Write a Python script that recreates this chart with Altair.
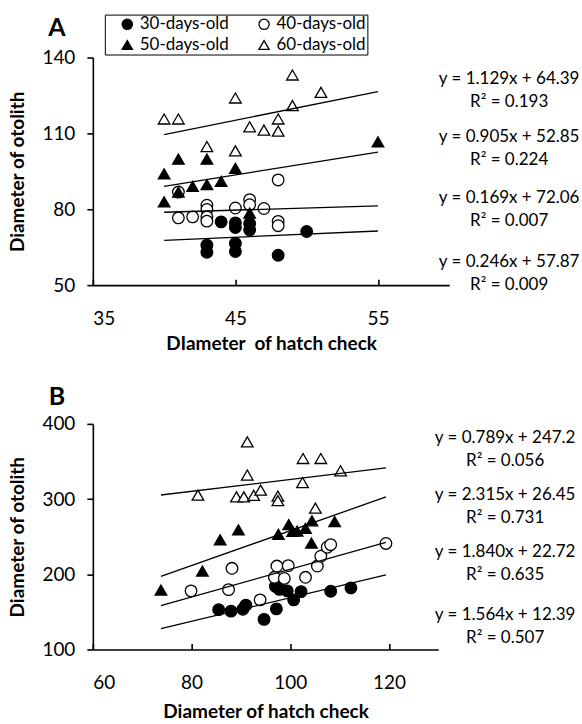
import altair as alt
import pandas as pd

SERIES = ["30-days-old", "40-days-old", "50-days-old", "60-days-old"]
SHAPES = ["circle", "circle", "triangle-up", "triangle-up"]
FILLS = ["black", "white", "black", "white"]
FONT = "Lato"

# ---------------- Panel A data ----------------
a30_x = [43, 43, 44, 45, 45, 45, 45, 46, 46, 48, 50]
a30_y = [65.8, 63.0, 75.0, 74.6, 72.8, 66.5, 63.3, 74.3, 71.8, 61.8, 71.2]
a40_x = [41, 41, 42, 43, 43, 43, 43, 45, 46, 46, 47, 48, 48, 48]
a40_y = [86.8, 76.6, 77.0, 81.6, 79.9, 77.0, 75.3, 80.5, 83.8, 81.8, 80.3, 91.6, 75.2, 73.5]
a50_x = [40, 40, 41, 41, 42, 43, 43, 44, 45, 46, 55]
a50_y = [94.0, 82.9, 99.8, 86.8, 89.1, 89.8, 99.8, 91.0, 96.2, 78.5, 106.7]
a60_x = [40, 41, 43, 45, 45, 46, 47, 48, 48, 49, 49, 51]
a60_y = [115.7, 115.7, 104.8, 124.0, 103.1, 112.6, 111.3, 115.7, 110.9, 133.1, 121.0, 126.2]
a_slope = [0.246, 0.169, 0.905, 1.129]
a_icpt = [57.87, 72.06, 52.85, 64.39]
a_eq = ["y = 0.246x + 57.87", "y = 0.169x + 72.06", "y = 0.905x + 52.85", "y = 1.129x + 64.39"]
a_r2 = ["R² = 0.009", "R² = 0.007", "R² = 0.224", "R² = 0.193"]

# ---------------- Panel B data ----------------
b30_x = [85.5, 88, 90.4, 91, 94.7, 97.2, 97, 97.8, 99.4, 100.7, 102.2, 108.2, 112.3]
b30_y = [153, 151, 153.5, 159, 140, 154, 184, 180, 178, 166, 177, 177.5, 182]
b40_x = [79.9, 87.5, 88.2, 93.9, 96.8, 97.3, 98.8, 99.6, 103.1, 105.5, 106.2, 107.5, 108.2, 119.4]
b40_y = [178, 179.6, 208, 166, 196, 211, 194.5, 211.5, 196, 211, 224, 236, 239.4, 241]
b50_x = [73.8, 82.2, 85.8, 89.5, 97.6, 99.7, 100.5, 101.4, 103.1, 104.3, 104.4, 109.0]
b50_y = [179, 204.3, 245.7, 259, 253, 266, 257, 257.5, 261, 241.5, 271.2, 270]
b60_x = [81.3, 89.1, 90.6, 91.3, 91.3, 92.6, 94.0, 97.5, 97.5, 102.5, 102.6, 105.1, 106.2, 110.2]
b60_y = [305.2, 303, 303, 376, 332, 305, 312, 304, 298, 322, 354, 288, 354, 337.6]
b_slope = [1.564, 1.840, 2.315, 0.789]
b_icpt = [12.39, 22.72, 26.45, 247.2]
b_eq = ["y = 1.564x + 12.39", "y = 1.840x + 22.72", "y = 2.315x + 26.45", "y = 0.789x + 247.2"]
b_r2 = ["R² = 0.507", "R² = 0.635", "R² = 0.731", "R² = 0.056"]


def points_frame(xs, ys):
    rows = []
    for s, xl, yl in zip(SERIES, xs, ys):
        for x, y in zip(xl, yl):
            rows.append({"series": s, "x": x, "y": y})
    return pd.DataFrame(rows)


def fit_frame(xs, slopes, icpts):
    lo = min(min(v) for v in xs)
    hi = max(max(v) for v in xs)
    rows = []
    for s, m, b in zip(SERIES, slopes, icpts):
        for x in (lo, hi):
            rows.append({"series": s, "x": x, "y": m * x + b})
    return pd.DataFrame(rows)


# legend symbol fill expression built from SERIES / FILLS
fill_expr = ""
for s, f in zip(SERIES[:-1], FILLS[:-1]):
    fill_expr += f"datum.value === '{s}' ? '{f}' : "
fill_expr += f"'{FILLS[-1]}'"


def panel(xs, ys, slopes, icpts, eqs, r2s, xdom, xticks, ydom, yticks,
          xtitle, ytitle, letter, W, H, leg_xy, eq_x, eq_ys, letter_xy,
          x_title_pad):
    pts = points_frame(xs, ys)
    fit = fit_frame(xs, slopes, icpts)
    xscale = alt.Scale(domain=xdom, nice=False, zero=False)
    yscale = alt.Scale(domain=ydom, nice=False, zero=False)
    yaxis = alt.Axis(values=yticks, title=ytitle, tickSize=6, labelPadding=12,
                     titlePadding=14, grid=False)
    leg = alt.Legend(title=None, orient="none", legendX=leg_xy[0], legendY=leg_xy[1],
                     columns=2, direction="horizontal", strokeColor="black",
                     padding=1, symbolOffset=13, columnPadding=13, rowPadding=3,
                     labelFont=FONT, labelFontSize=17, labelColor="black",
                     symbolSize=105, symbolStrokeWidth=1.3, symbolStrokeColor="black",
                     symbolFillColor=alt.ExprRef(expr=fill_expr), symbolOpacity=1,
                     labelLimit=300, labelOffset=4)
    points = alt.Chart(pts).mark_point(size=135, strokeWidth=1.3, stroke="black",
                                       opacity=1, fillOpacity=1).encode(
        x=alt.X("x:Q", scale=xscale,
                axis=alt.Axis(values=xticks, title=xtitle, ticks=False, tickSize=0,
                              labelPadding=24, titlePadding=x_title_pad, grid=False)),
        y=alt.Y("y:Q", scale=yscale, axis=yaxis),
        shape=alt.Shape("series:N", scale=alt.Scale(domain=SERIES, range=SHAPES), legend=leg),
        fill=alt.Fill("series:N", scale=alt.Scale(domain=SERIES, range=FILLS), legend=None),
    )
    lines = alt.Chart(fit).mark_line(color="black", strokeWidth=1.3).encode(
        x=alt.X("x:Q", scale=xscale,
                axis=alt.Axis(values=xticks, orient="top", offset=-H, labels=False,
                              domain=False, ticks=True, tickSize=6, title=None, grid=False)),
        y=alt.Y("y:Q", scale=yscale, axis=yaxis),
        detail="series:N",
    )
    layers = [points, lines]
    for eq, r2, ey in zip(eqs, r2s, eq_ys):
        t = alt.Chart(pd.DataFrame({"label": [eq + "\n" + r2]})).mark_text(
            font=FONT, fontSize=17, color="black", align="center", baseline="middle",
            lineBreak="\n", lineHeight=23,
        ).encode(text="label:N", x=alt.value(eq_x), y=alt.value(ey))
        layers.append(t)
    lt = alt.Chart(pd.DataFrame({"label": [letter]})).mark_text(
        font=FONT, fontSize=25, fontWeight="bold", color="black", align="center",
        baseline="middle").encode(text="label:N", x=alt.value(letter_xy[0]),
                                  y=alt.value(letter_xy[1]))
    layers.append(lt)
    return alt.layer(*layers).resolve_axis(x="independent").properties(width=W, height=H)


A = panel([a30_x, a40_x, a50_x, a60_x], [a30_y, a40_y, a50_y, a60_y], a_slope, a_icpt,
          list(reversed(a_eq)), list(reversed(a_r2)), [35, 60], [35, 45, 55], [50, 140],
          [50, 80, 110, 140], "DIameter\u00a0\u00a0of hatch check", "Diameter of otolith", "A",
          357, 228, (12, -43), 417, [21.5, 79.5, 140.5, 204.5], (-36, -30), 6)
B = panel([b30_x, b40_x, b50_x, b60_x], [b30_y, b40_y, b50_y, b60_y], b_slope, b_icpt,
          list(reversed(b_eq)), list(reversed(b_r2)), [60, 130], [60, 80, 100, 120],
          [100, 400], [100, 200, 300, 400], "Diameter of hatch check", "Diameter of otolith",
          "B", 346, 226, (11, -40), 413, [14.5, 71.5, 128.5, 191], (-36, -27), 10)

chart = alt.vconcat(A, B, spacing=32).properties(
    padding={"left": 8, "top": 13, "right": 2, "bottom": 2}
).configure_view(stroke=None).configure_axis(
    labelFont=FONT, labelFontSize=19, labelColor="black", titleFont=FONT,
    titleFontSize=19, titleFontWeight="bold", titleColor="black",
    domainColor="black", domainWidth=1.6, tickColor="black", tickWidth=1.6,
)

chart.save("out.html", embed_options={"renderer": "svg", "actions": False})
